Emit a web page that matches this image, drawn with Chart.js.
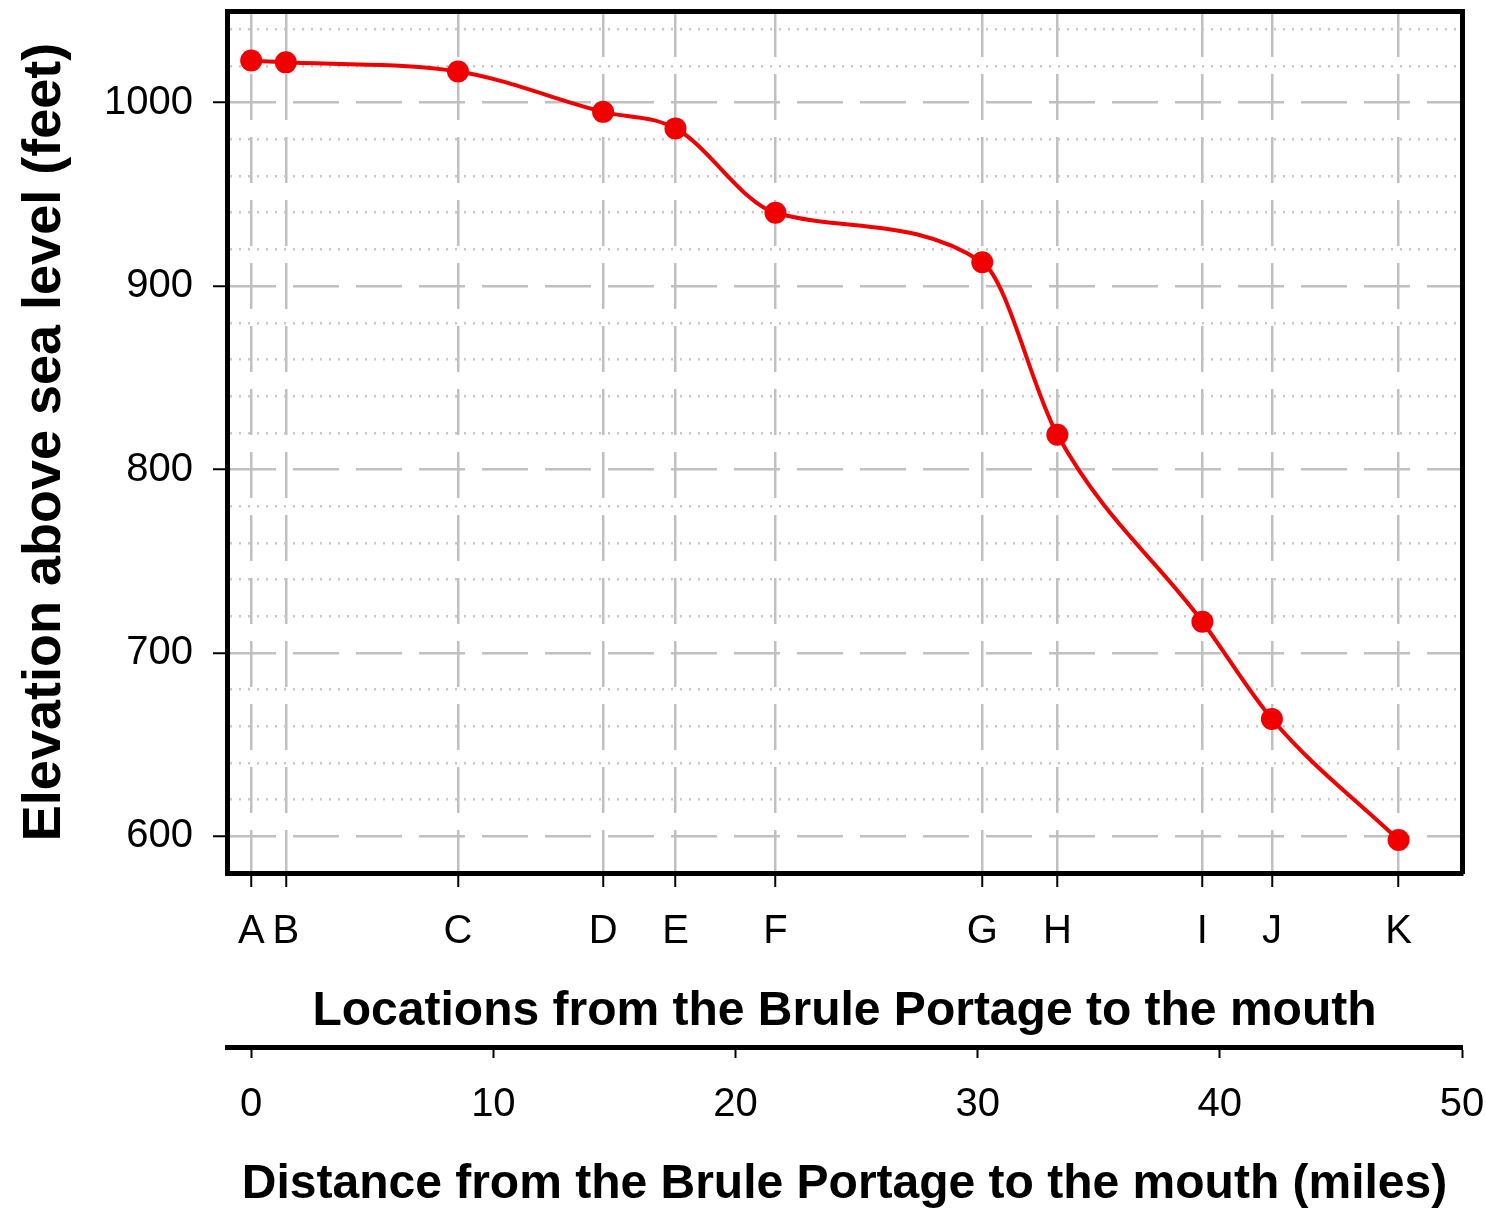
<!DOCTYPE html>
<html><head><meta charset="utf-8">
<script src="https://cdn.jsdelivr.net/npm/chart.js@4/dist/chart.umd.min.js"></script>
<style>html,body{margin:0;padding:0;background:#fff}#wrap{width:1486px;height:1209px;position:relative}</style>
</head><body><div id="wrap"><canvas id="c"></canvas></div>
<script>
const locations = ['A','B','C','D','E','F','G','H','I','J','K'];
const distances = [0, 1.43, 8.54, 14.53, 17.52, 21.65, 30.19, 33.29, 39.28, 42.15, 47.38];
const elevations = [1023, 1022, 1017, 995, 986, 940, 913, 819, 717, 664, 598];
const elevationTicks = [600, 700, 800, 900, 1000];
const elevationMinorStep = 20;
const distanceTicks = [0, 10, 20, 30, 40, 50];

const FONT = "'Liberation Sans', Arial, sans-serif";
const tickFont = {family: FONT, size: 40, lineHeight: 1.2};
const xTitleFont = {family: FONT, size: 48, weight: 'bold', lineHeight: 1.0};
const yTitleFont = {family: FONT, size: 54, weight: 'bold', lineHeight: 1.0};
const GRID = '#c0c0c0';
const MAJOR_DASH = [46, 17];
const MINOR_DASH = [2, 7];

const yTickValues = [];
for (let v = elevationTicks[0]; v <= 1040; v += elevationMinorStep) yTickValues.push(v);
const isMajor = v => elevationTicks.includes(v);

const noPad = s => { s.paddingLeft = 0; s.paddingRight = 0; s.paddingTop = 0; s.paddingBottom = 0; };

const frameAxis = (pos, size) => ({
  type: 'linear', position: pos, min: 0, max: 1,
  grid: {display: true, drawOnChartArea: false, drawTicks: false, color: 'rgba(0,0,0,0)'},
  border: {display: true, color: '#000', width: 5},
  ticks: {display: false},
  afterFit: s => { noPad(s); if (pos === 'top' || pos === 'bottom') s.height = size; else s.width = size; }
});

new Chart(document.getElementById('c'), {
  type: 'line',
  data: {
    datasets: [{
      data: distances.map((x, i) => ({x: x, y: elevations[i]})),
      xAxisID: 'x', yAxisID: 'y',
      borderColor: 'rgb(240,0,0)', backgroundColor: 'rgb(240,0,0)',
      borderWidth: 4, pointRadius: 11, pointBorderWidth: 0, pointHoverRadius: 11,
      cubicInterpolationMode: 'monotone', fill: false
    }]
  },
  options: {
    responsive: true, maintainAspectRatio: false, animation: false,
    layout: {padding: 0},
    plugins: {legend: {display: false}, tooltip: {enabled: false}},
    scales: {
      loc: {
        type: 'linear', position: 'bottom', weight: 0, min: -1, max: 50,
        afterBuildTicks: s => { s.ticks = distances.map(v => ({value: v})); },
        grid: {display: true, drawOnChartArea: true, color: GRID, lineWidth: 2.5,
               tickColor: '#000', tickWidth: 2, tickLength: 14, tickBorderDash: []},
        border: {display: true, color: '#000', width: 5, dash: MAJOR_DASH},
        ticks: {autoSkip: false, maxRotation: 0, color: '#000', font: tickFont, padding: 21,
                callback: (v, i) => locations[i]},
        title: {display: true, text: 'Locations from the Brule Portage to the mouth', color: '#000',
                font: xTitleFont, padding: {top: 0, bottom: 11}},
        afterFit: s => { noPad(s); s.height = 174; }
      },
      x: {
        type: 'linear', position: 'bottom', weight: 1, min: -1, max: 50,
        afterBuildTicks: s => { s.ticks = distanceTicks.map(v => ({value: v})); },
        grid: {display: true, drawOnChartArea: false, drawTicks: true, color: '#000',
               tickColor: '#000', tickWidth: 2, tickLength: 11, tickBorderDash: []},
        border: {display: true, color: '#000', width: 5},
        ticks: {autoSkip: false, maxRotation: 0, color: '#000', font: tickFont, padding: 23},
        title: {display: true, text: 'Distance from the Brule Portage to the mouth (miles)', color: '#000',
                font: xTitleFont, padding: {top: 0, bottom: 0}},
        afterFit: s => { noPad(s); s.height = 162; }
      },
      y: {
        type: 'linear', position: 'left', min: 580, max: 1050,
        afterBuildTicks: s => { s.ticks = yTickValues.map(v => ({value: v})); },
        grid: {display: true, drawOnChartArea: true, lineWidth: 2.5,
               color: ctx => (ctx.tick && isMajor(ctx.tick.value)) ? GRID : '#c8c8c8',
               tickColor: ctx => (ctx.tick && isMajor(ctx.tick.value)) ? '#000' : 'rgba(0,0,0,0)',
               tickWidth: 2, tickLength: 14, tickBorderDash: []},
        border: {display: true, color: '#000', width: 5,
                 dash: ctx => ctx.tick ? (isMajor(ctx.tick.value) ? MAJOR_DASH : MINOR_DASH) : []},
        ticks: {autoSkip: false, color: '#000', font: tickFont, padding: 20,
                callback: v => isMajor(v) ? String(v) : ''},
        title: {display: true, text: 'Elevation above sea level (feet)', color: '#000',
                font: yTitleFont, padding: {top: 18, bottom: 0}},
        afterFit: s => { noPad(s); s.width = 227; }
      },
      xTop: frameAxis('top', 8),
      yRight: frameAxis('right', 24)
    }
  }
});
</script></body></html>
